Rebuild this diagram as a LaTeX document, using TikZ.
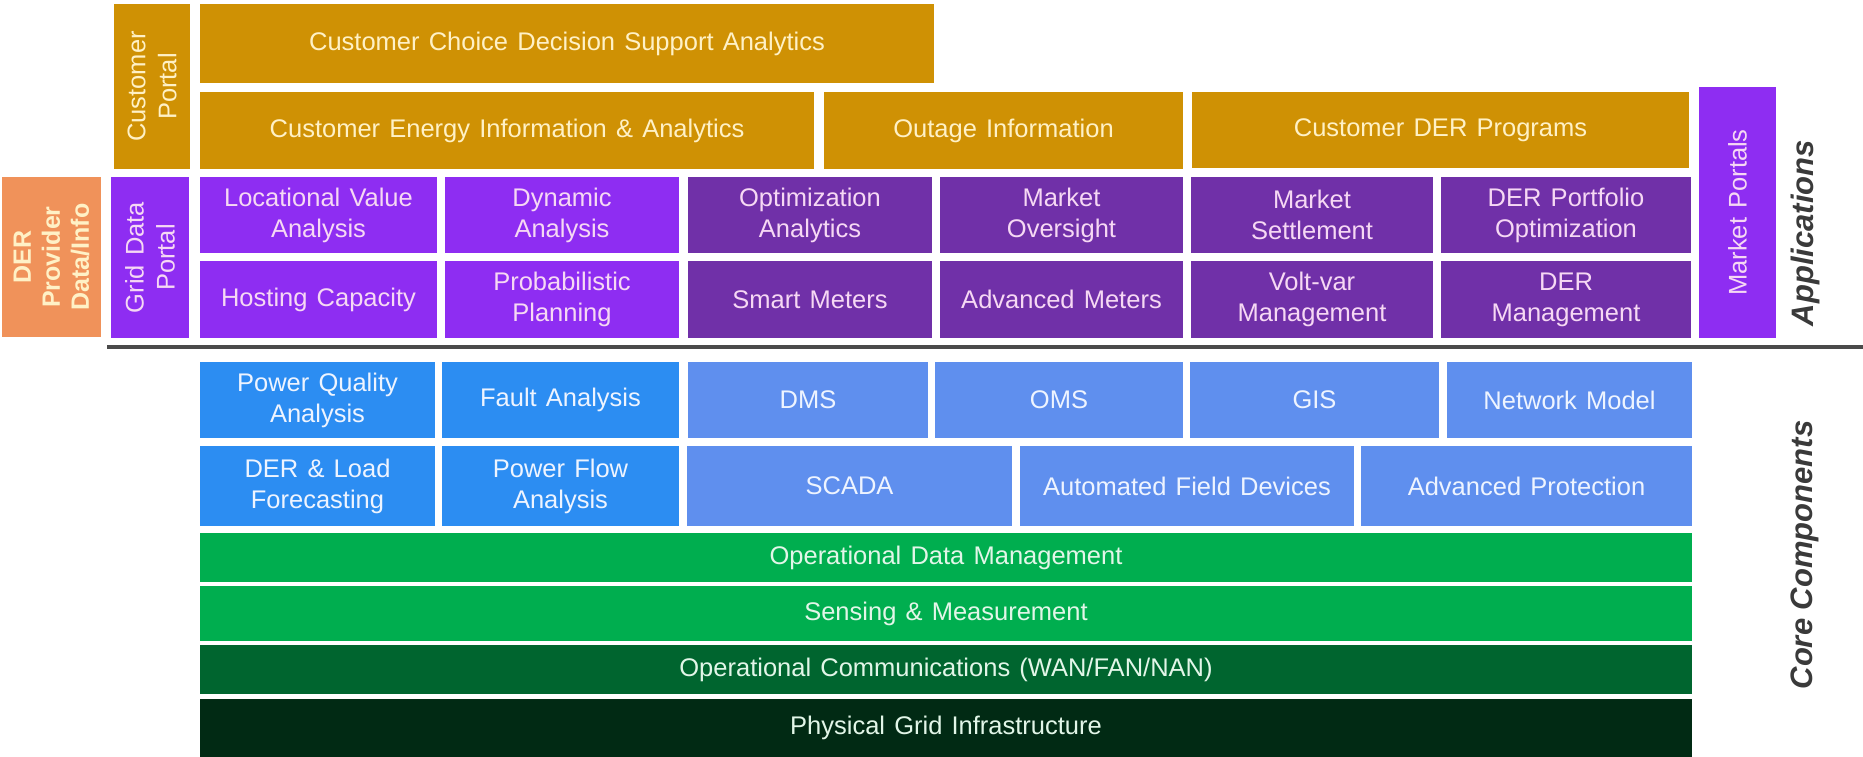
\documentclass[tikz,border=0pt]{standalone}
\usepackage{fontspec}
\setmainfont{Liberation Sans}

% fills
\definecolor{ochre}{HTML}{CF9104}
\definecolor{salmon}{HTML}{F0925A}
\definecolor{violet}{HTML}{8E2DF2}
\definecolor{plum}{HTML}{7030A8}
\definecolor{sky}{HTML}{2C8DF2}
\definecolor{peri}{HTML}{5F8FEE}
\definecolor{leaf}{HTML}{00AE4F}
\definecolor{forest}{HTML}{00652F}
\definecolor{pine}{HTML}{012A14}
\definecolor{rule}{HTML}{4A4A4A}
\definecolor{caption}{HTML}{3A3A3A}
% text colours
\definecolor{cream}{HTML}{FFF1C6}
\definecolor{blush}{HTML}{F6D8F4}
\definecolor{ice}{HTML}{EEF4FF}
\definecolor{mint}{HTML}{E2F6E8}

% block from its corners: name, style, x1, y1, x2, y2, text
\newcommand{\blk}[7]{%
  \node[#2, minimum width={(#5-#3)*1pt}, minimum height={(#6-#4)*1pt}]
    (#1) at ({(#3+#5)/2},{(#4+#6)/2}) {#7};}
% upright block with text running bottom to top
\newcommand{\vblk}[7]{%
  \node[#2, rotate=90, minimum width={(#6-#4)*1pt}, minimum height={(#5-#3)*1pt}]
    (#1) at ({(#3+#5)/2},{(#4+#6)/2}) {#7};}
% slightly wider word gaps inside the blocks
\newcommand{\blockfont}[2]{\fontsize{#1}{#2}\selectfont\spaceskip=0.36em plus 0.1em\relax}

\begin{document}
\begin{tikzpicture}[x=1pt,y=-1pt,
  blockbase/.style={inner sep=0pt, outer sep=0pt, align=center,
    font=\blockfont{25.5}{31}},
  ochrebox/.style={blockbase, fill=ochre, text=cream},
  salmonbox/.style={blockbase, fill=salmon, text=cream,
    font=\blockfont{25}{29}\bfseries},
  violetbox/.style={blockbase, fill=violet, text=blush},
  plumbox/.style={blockbase, fill=plum, text=blush},
  skybox/.style={blockbase, fill=sky, text=ice},
  peribox/.style={blockbase, fill=peri, text=ice},
  leafbox/.style={blockbase, fill=leaf, text=mint},
  forestbox/.style={blockbase, fill=forest, text=mint},
  pinebox/.style={blockbase, fill=pine, text=mint},
  layertitle/.style={inner sep=0pt, rotate=90, text=caption,
    font=\fontsize{31}{36}\selectfont\bfseries\itshape}
]
\useasboundingbox (0,0) rectangle (1863,757);

% ---- customer layer ----
\vblk{custportal}{ochrebox}{114}{4}{190}{169}{Customer\\Portal}
\blk{choice}{ochrebox}{200}{4}{934}{83}{Customer Choice Decision Support Analytics}
\blk{energyinfo}{ochrebox}{200}{92}{814}{169}{Customer Energy Information \& Analytics}
\blk{outage}{ochrebox}{824}{92}{1183}{169}{Outage Information}
\blk{derprog}{ochrebox}{1192}{92}{1689}{168}{Customer DER Programs}

% ---- grid and market applications ----
\vblk{derprovider}{salmonbox}{2}{177}{101}{337}{DER\\Provider\\Data/Info}
\vblk{gridportal}{violetbox}{111}{177}{189}{338}{Grid Data\\Portal}
\vblk{marketportals}{violetbox}{1699}{87}{1776}{338}{Market Portals}

\blk{locval}{violetbox}{200}{177}{437}{253}{Locational Value\\Analysis}
\blk{dynamic}{violetbox}{445}{177}{679}{253}{Dynamic\\Analysis}
\blk{optim}{plumbox}{688}{177}{932}{253}{Optimization\\Analytics}
\blk{oversight}{plumbox}{940}{177}{1183}{253}{Market\\Oversight}
\blk{settle}{plumbox}{1191}{177}{1433}{253}{Market\\Settlement}
\blk{portfolio}{plumbox}{1441}{177}{1691}{253}{DER Portfolio\\Optimization}

\blk{hosting}{violetbox}{200}{261}{437}{338}{Hosting Capacity}
\blk{probplan}{violetbox}{445}{261}{679}{338}{Probabilistic\\Planning}
\blk{smartm}{plumbox}{688}{261}{932}{338}{Smart Meters}
\blk{advm}{plumbox}{940}{261}{1183}{338}{Advanced Meters}
\blk{voltvar}{plumbox}{1191}{261}{1433}{338}{Volt-var\\Management}
\blk{dermgmt}{plumbox}{1441}{261}{1691}{338}{DER\\Management}

\node[layertitle] (apps) at (1805,233) {Applications};

% ---- divider ----
\coordinate (ruleL) at (107,347);
\coordinate (ruleR) at (1863,347);
\draw[rule, line width=4pt] (ruleL) -- (ruleR);

% ---- core components ----
\blk{pq}{skybox}{200}{362}{435}{438}{Power Quality\\Analysis}
\blk{fault}{skybox}{442}{362}{679}{438}{Fault Analysis}
\blk{dms}{peribox}{688}{362}{928}{438}{DMS}
\blk{oms}{peribox}{935}{362}{1183}{438}{OMS}
\blk{gis}{peribox}{1190}{362}{1439}{438}{GIS}
\blk{netmodel}{peribox}{1447}{362}{1692}{438}{Network Model}

\blk{forecast}{skybox}{200}{446}{435}{526}{DER \& Load\\Forecasting}
\blk{powerflow}{skybox}{442}{446}{679}{526}{Power Flow\\Analysis}
\blk{scada}{peribox}{687}{446}{1012}{526}{SCADA}
\blk{fielddev}{peribox}{1020}{446}{1354}{526}{Automated Field Devices}
\blk{protect}{peribox}{1361}{446}{1692}{526}{Advanced Protection}

\blk{opdata}{leafbox}{200}{533}{1692}{582}{Operational Data Management}
\blk{sensing}{leafbox}{200}{586}{1692}{641}{Sensing \& Measurement}
\blk{opcomm}{forestbox}{200}{645}{1692}{694}{Operational Communications (WAN/FAN/NAN)}
\blk{physical}{pinebox}{200}{699}{1692}{757}{Physical Grid Infrastructure}

\node[layertitle] (core) at (1805,555) {Core Components};
\end{tikzpicture}
\end{document}
